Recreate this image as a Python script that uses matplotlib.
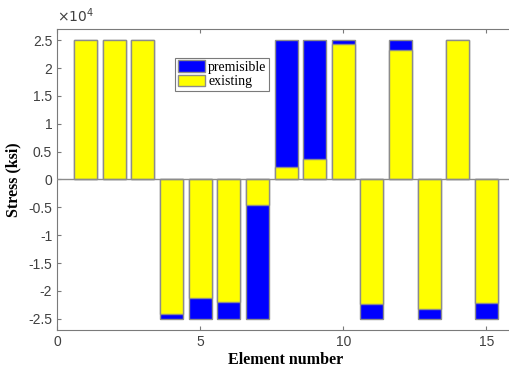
import matplotlib.pyplot as plt
from matplotlib.patches import Patch
from matplotlib.ticker import FuncFormatter
import numpy as np

# element numbers
elements = np.arange(1, 16)

# permissible stress (ksi) for each element
premisible = [25000, 25000, 25000, -25000, -25000, -25000, -25000, 25000,
              25000, 25000, -25000, 25000, -25000, 25000, -25000]

# existing stress (ksi) for each element
existing = [25000, 25000, 25000, -24200, -21300, -22000, -4600, 2300,
            3700, 24300, -22300, 23200, -23200, 25000, -22100]

BLUE = '#0000FF'
YELLOW = '#FFFF00'
EDGE = '#8c8c8c'
AXC = '#7a7a7a'

fig = plt.figure(figsize=(5.09, 3.72), dpi=100)
ax = fig.add_axes([0.112, 0.113, 0.900, 0.809])

# permissible bars behind, existing bars drawn over them
ax.bar(elements, premisible, width=0.8, color=BLUE, edgecolor=EDGE, linewidth=1)
ax.bar(elements, existing, width=0.8, color=YELLOW, edgecolor=EDGE, linewidth=1)
ax.axhline(0, color=EDGE, linewidth=1, zorder=3)

ax.set_xlim(0, 16)
ax.set_ylim(-27000, 27000)
ax.set_xticks([0, 5, 10, 15])
ax.set_yticks(np.arange(-25000, 25001, 5000))
ax.yaxis.set_major_formatter(FuncFormatter(lambda v, p: '%g' % (v / 1e4)))

ax.tick_params(direction='in', length=3, width=0.8, color=AXC, labelcolor='#404040',
               labelsize=10, top=True, right=True)
for lab in ax.get_xticklabels() + ax.get_yticklabels():
    lab.set_family('Liberation Sans')
for sp in ax.spines.values():
    sp.set_color(AXC)
    sp.set_linewidth(0.8)

ax.text(0.0, 1.015, r'$\times10^{4}$', transform=ax.transAxes, fontsize=10,
        color='#404040', family='Liberation Sans', ha='left', va='bottom')

ax.set_xlabel('Element number', fontsize=11.5, fontweight='bold', family='Liberation Serif',
              labelpad=2)
ax.set_ylabel('Stress (ksi)', fontsize=11.5, fontweight='bold', family='Liberation Serif',
              labelpad=5)

legend_elements = [Patch(facecolor=BLUE, edgecolor=EDGE, label='premisible'),
                   Patch(facecolor=YELLOW, edgecolor=EDGE, label='existing')]
leg = ax.legend(handles=legend_elements, loc='upper left', bbox_to_anchor=(0.257, 0.905),
                fancybox=False, framealpha=1, edgecolor=AXC,
                prop={'family': 'Liberation Serif', 'size': 10},
                handlelength=2.0, handleheight=0.9, handletextpad=0.2,
                labelspacing=0.05, borderpad=0.2, borderaxespad=0)
leg.get_frame().set_linewidth(0.8)

fig.savefig('out.png', dpi=100)
